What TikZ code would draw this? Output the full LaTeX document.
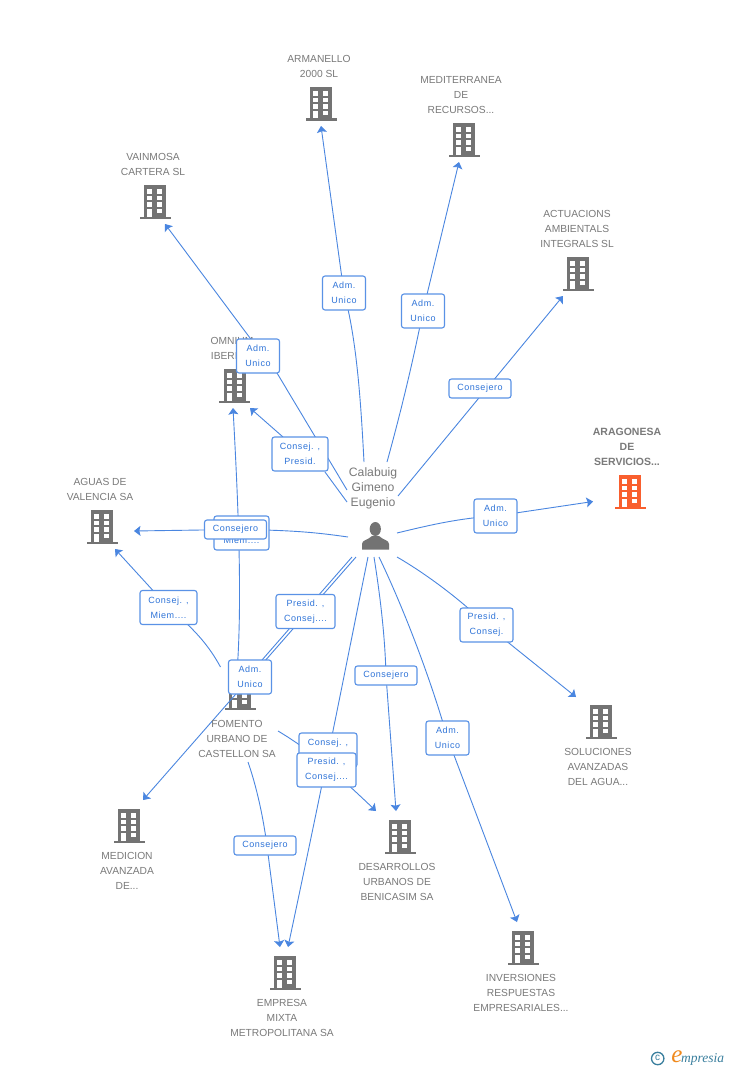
\documentclass[tikz,border=0pt]{standalone}
\usepackage{fontspec}
\setmainfont{Liberation Sans}
\newfontfamily\tagfont[LetterSpace=6]{Liberation Sans}
\newfontfamily\logofont{Liberation Serif}
\usetikzlibrary{arrows.meta,backgrounds}
\definecolor{linkblue}{HTML}{4A86E0}
\definecolor{boxblue}{HTML}{5A92E6}
\definecolor{tagblue}{HTML}{2F74D8}
\definecolor{greytxt}{HTML}{7A7A7A}
\definecolor{greybld}{HTML}{737373}
\definecolor{orangebld}{HTML}{F95F2E}
\definecolor{logoteal}{HTML}{3A7F9E}
\definecolor{logoorange}{HTML}{F08A1D}
\pgfdeclarelayer{under}
\pgfsetlayers{under,main}
\tikzset{
  x=1pt,y=-1pt,
  building/.pic={
    \fill[pic actions] (-11,-17) rectangle (11,14.5);
    \fill[pic actions] (-15.5,14.5) rectangle (15.5,17);
    \fill[white] (-7.7,-12.7) rectangle (-3,-8);
    \fill[white] (2,-12.7) rectangle (7,-8);
    \fill[white] (-7.7,-6.3) rectangle (-3,-2);
    \fill[white] (2,-6.3) rectangle (7,-2);
    \fill[white] (-7.7,0.3) rectangle (-3,4.7);
    \fill[white] (2,0.3) rectangle (7,4.7);
    \fill[white] (-7.7,7) rectangle (-3,14.5);
    \fill[white] (2,7) rectangle (7,11.3);
  },
  greybuilding/.style={fill=greybld},
  orangebuilding/.style={fill=orangebld},
  caption/.style={font=\fontsize{10.25pt}{15pt}\selectfont,text=greytxt,align=center,inner sep=0pt},
  tagbox/.style={draw=boxblue,line width=1.1pt,rounded corners=2.5pt,fill=white,
    font=\tagfont\fontsize{9pt}{15pt}\selectfont,text=tagblue,align=center,inner sep=0pt,
    minimum height=34pt},
  tagone/.style={tagbox,minimum height=19pt,minimum width=62pt},
  link/.style={draw=linkblue,line width=0.9pt},
  linkto/.style={link,-{Stealth[length=6.5pt,width=10pt,inset=1.2pt]}},
}
\begin{document}
\begin{tikzpicture}
\useasboundingbox (0,0) rectangle (728,1070);

% captions
\node[caption] (armcap) at (319,66) {ARMANELLO\\2000 SL};
\node[caption] (medcap) at (461,95) {MEDITERRANEA\\DE\\RECURSOS...};
\node[caption] (vaicap) at (153,164) {VAINMOSA\\CARTERA SL};
\node[caption] (actcap) at (577,229) {ACTUACIONS\\AMBIENTALS\\INTEGRALS SL};
\node[caption] (omncap) at (232,348) {OMNIUM\\IBERICO};
\node[caption,font=\fontsize{10.5pt}{15pt}\selectfont\bfseries] (aracap) at (627,447) {ARAGONESA\\DE\\SERVICIOS...};
\node[caption] (agucap) at (100,489) {AGUAS DE\\VALENCIA SA};
\node[caption,font=\fontsize{12.2pt}{15pt}\selectfont] (percap) at (373,488.5) {Calabuig\\Gimeno\\Eugenio};
\node[caption] (fomcap) at (237,739) {FOMENTO\\URBANO DE\\CASTELLON SA};
\node[caption] (solcap) at (598,767) {SOLUCIONES\\AVANZADAS\\DEL AGUA...};
\node[caption] (medicap) at (127,871) {MEDICION\\AVANZADA\\DE...};
\node[caption] (descap) at (397,882) {DESARROLLOS\\URBANOS DE\\BENICASIM SA};
\node[caption] (empcap) at (282,1018) {EMPRESA\\MIXTA\\METROPOLITANA SA};
\node[caption] (invcap) at (521,993) {INVERSIONES\\RESPUESTAS\\EMPRESARIALES...};

% labels on the connectors
\node[tagbox,minimum width=55pt] (tHid) at (241.5,533) {Consej. ,\\Miem....};
\node[tagone] (tAgu) at (235.5,529.5) {Consejero};
\node[tagbox,minimum width=43pt] (tArm) at (344,293) {Adm.\\Unico};
\node[tagbox,minimum width=43pt] (tMed) at (423,311) {Adm.\\Unico};
\node[tagone] (tAct) at (480,388.5) {Consejero};
\node[tagbox,minimum width=43pt] (tVai) at (258,356) {Adm.\\Unico};
\node[tagbox,minimum width=56pt] (tOmn) at (300,454) {Consej. ,\\Presid.};
\node[tagbox,minimum width=43pt] (tAra) at (495.5,516) {Adm.\\Unico};
\node[tagbox,minimum width=53pt] (tSol) at (486.5,625) {Presid. ,\\Consej.};
\node[tagbox,minimum width=43pt] (tInv) at (447.5,738) {Adm.\\Unico};
\node[tagone] (tDes) at (386,675.5) {Consejero};
\node[tagbox,minimum width=57pt] (tAg2) at (168.5,607.5) {Consej. ,\\Miem....};
\node[tagbox,minimum width=59pt] (tMdc) at (305.5,611.5) {Presid. ,\\Consej....};
\node[tagbox,minimum width=43pt] (tFom) at (250,677) {Adm.\\Unico};
\node[tagone] (tEmp) at (265,845.5) {Consejero};
\node[tagbox,minimum width=58pt] (tDs2) at (328,750) {Consej. ,\\Presid.};
\node[tagbox,minimum width=59pt] (tEm2) at (326.5,770) {Presid. ,\\Consej....};

% connector ends
\coordinate (sArm) at (364,462); \coordinate (eArm) at (321,126);
\coordinate (sMed) at (387,462); \coordinate (eMed) at (459,162);
\coordinate (sAct) at (398,496); \coordinate (eAct) at (563,296);
\coordinate (sVai) at (347,490); \coordinate (eVai) at (165,224);
\coordinate (sOmn) at (347,502); \coordinate (eOmn) at (250,408);
\coordinate (sAgu) at (348,537); \coordinate (eAgu) at (134,531);
\coordinate (sAra) at (397,533); \coordinate (eAra) at (593,501.5);
\coordinate (sSol) at (397,557); \coordinate (eSol) at (576,697);
\coordinate (sInv) at (379,557); \coordinate (eInv) at (517,922);
\coordinate (sDes) at (374,557); \coordinate (eDes) at (396,811);
\coordinate (sEm2) at (368,557); \coordinate (eEm2) at (288,947);
\coordinate (sMdc) at (356,557); \coordinate (eMdc) at (143,800);
\coordinate (sFmP) at (352,557); \coordinate (eFmP) at (262,660);
\coordinate (sFom) at (237.7,662); \coordinate (eFom) at (233,408);
\coordinate (sAg2) at (220.5,667); \coordinate (eAg2) at (115,549);
\coordinate (sEmp) at (248,762); \coordinate (eEmp) at (280,947);
\coordinate (sDs2) at (278,731); \coordinate (eDs2) at (376,811);
\coordinate (mVai) at (277,373);
\coordinate (mVa2) at (250,338);
\coordinate (mOmn) at (325,472);
\coordinate (mOm2) at (283,437);
\coordinate (mEmp) at (267,846);

\begin{pgfonlayer}{under}
\fill[white] (0,0) rectangle (728,1070);
\pic[greybuilding] (bArm) at (321,104) {building};
\pic[greybuilding] (bMed) at (464,140) {building};
\pic[greybuilding] (bVai) at (155,202) {building};
\pic[greybuilding] (bAct) at (578,274) {building};
\pic[greybuilding] (bOmn) at (234.5,386) {building};
\pic[orangebuilding] (bAra) at (630,492) {building};
\pic[greybuilding] (bAgu) at (102,527) {building};
\pic[greybuilding] (bFom) at (240,693) {building};
\pic[greybuilding] (bSol) at (601,722) {building};
\pic[greybuilding] (bMdc) at (129,826) {building};
\pic[greybuilding] (bDes) at (400,837) {building};
\pic[greybuilding] (bEmp) at (285,973) {building};
\pic[greybuilding] (bInv) at (523,948) {building};

\draw[linkto] (sArm) .. controls (361,405) and (357,340) .. (tArm.center) -- (eArm);
\draw[linkto] (sMed) .. controls (400,415) and (413,362) .. (tMed.center) -- (eMed);
\draw[linkto] (sAct) -- (eAct);
\draw[linkto] (sVai) -- (mVai) -- (mVa2) -- (eVai);
\draw[link] (sOmn) -- (mOmn);
\draw[linkto] (mOm2) -- (eOmn);
\draw[linkto] (sAgu) .. controls (320,533) and (295,530) .. (tAgu.center) -- (eAgu);
\draw[linkto] (sAra) .. controls (430,525) and (460,518) .. (tAra.center) -- (eAra);
\draw[linkto] (sSol) .. controls (428,575) and (462,601) .. (tSol.center) -- (eSol);
\draw[linkto] (sInv) .. controls (395,590) and (425,660) .. (tInv.center) -- (eInv);
\draw[linkto] (sDes) .. controls (380,595) and (385,635) .. (tDes.center) -- (eDes);
\draw[linkto] (sEm2) .. controls (351,640) and (333,735) .. (eEm2);
\draw[linkto] (sMdc) -- (eMdc);
\draw[link] (sFmP) -- (eFmP);
\draw[linkto] (sFom) .. controls (242,590) and (238,500) .. (eFom);
\draw[linkto] (sAg2) .. controls (210,648) and (198,632) .. (tAg2.center) -- (eAg2);
\draw[linkto] (sEmp) .. controls (256,785) and (263,815) .. (mEmp) -- (eEmp);
\draw[linkto] (sDs2) .. controls (310,750) and (335,772) .. (eDs2);
\end{pgfonlayer}

% person
\fill[greybld] (375.3,529) ellipse (5.6 and 7);
\fill[greybld] (362,549.5) -- (362,544) .. controls (362,540) and (368,540) .. (372,536) -- (379,536) .. controls (383,540) and (389,540) .. (389,544) -- (389,549.5) -- cycle;

% logo
\draw[logoteal,line width=1.3pt] (657.7,1058.5) circle (6.2);
\node[text=logoteal,font=\fontsize{10pt}{10pt}\selectfont,inner sep=0pt] (logoc) at (657.7,1058) {c};
\node[text=logoorange,font=\logofont\fontsize{25pt}{25pt}\selectfont\itshape,inner sep=0pt] (logoe) at (677,1057) {e};
\node[text=logoteal,font=\logofont\fontsize{13.5pt}{13pt}\selectfont\itshape,inner sep=0pt,anchor=west] (logot) at (681,1059) {mpresia};
\end{tikzpicture}
\end{document}
